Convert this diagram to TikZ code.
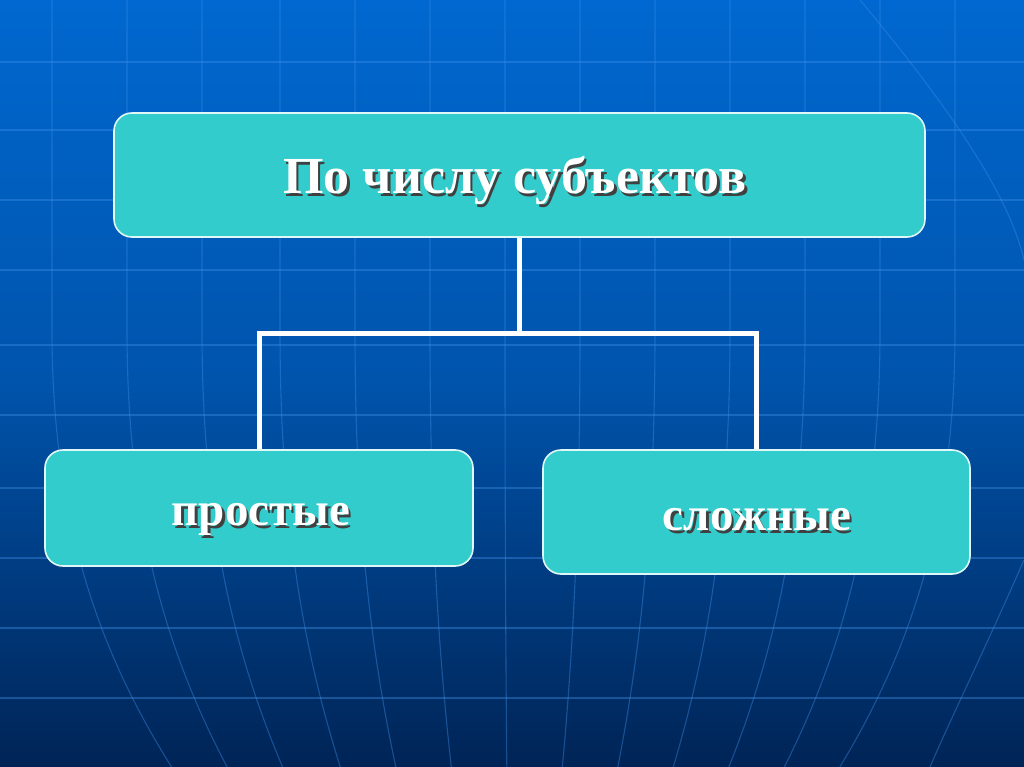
\documentclass[tikz,border=0pt]{standalone}
\usepackage{fontspec}
\setmainfont{Liberation Serif}
\definecolor{bgtop}{HTML}{0068D0}
\definecolor{bgbot}{HTML}{002456}
\definecolor{boxfill}{HTML}{33CCCC}
\definecolor{gridc}{HTML}{3F8FE8}
\newcommand{\shtext}[1]{\rlap{\hspace{2.5pt}\raisebox{-2.5pt}{\color{black!75}#1}}#1}
\tikzset{
  catbox/.style={draw=white!85!boxfill, line width=1.6pt, fill=boxfill, rounded corners=18pt, inner sep=0pt},
  cattext/.style={text=white, font=\fontsize{#1}{#1}\selectfont\bfseries, inner sep=0pt},
  link/.style={draw=white, line width=5pt},
  gridline/.style={draw=gridc, line width=1.1pt, opacity=0.4}
}
\begin{document}
\begin{tikzpicture}[x=1pt,y=-1pt]
\useasboundingbox (0,0) rectangle (1024,767);
\shade[top color=bgtop, bottom color=bgbot, middle color=bgtop!70!bgbot] (0,0) rectangle (1024,767);
% globe grid
\begin{scope}
\clip (0,0) rectangle (1024,767);
\foreach \yy in {62,130,200,270,345,415,488,558,628,698}
  \draw[gridline] (0,\yy) -- (1024,\yy);
\foreach \xx in {52,127,202,280,355,430,505,580,655,730,805,880,955}
  \draw[gridline] (\xx,0) -- (\xx,330) .. controls (\xx,520) and ({512+(\xx-512)*0.9},650) .. ({512+(\xx-512)*0.74},767);
\draw[gridline] (860,0) .. controls (960,120) and (1010,200) .. (1024,260);
\draw[gridline] (1024,560) .. controls (980,660) and (950,720) .. (930,767);
\end{scope}
% boxes
\node[catbox, minimum width=811pt, minimum height=124pt] (top) at (519.5,175) {};
\node[cattext=52] (toptxt) at (515,182) {\shtext{По числу субъектов}};
\node[catbox, minimum width=428pt, minimum height=116pt] (left) at (259,508) {};
\node[cattext=47] (lefttxt) at (261,521) {\shtext{простые}};
\node[catbox, minimum width=427pt, minimum height=124pt] (right) at (756.5,512) {};
\node[cattext=47] (righttxt) at (757,521) {\shtext{сложные}};
% connectors
\coordinate (mid) at (519.5,333);
\draw[link] (top.south) -- (mid) -| (left.north);
\draw[link] (mid) -| (right.north);
\end{tikzpicture}
\end{document}
